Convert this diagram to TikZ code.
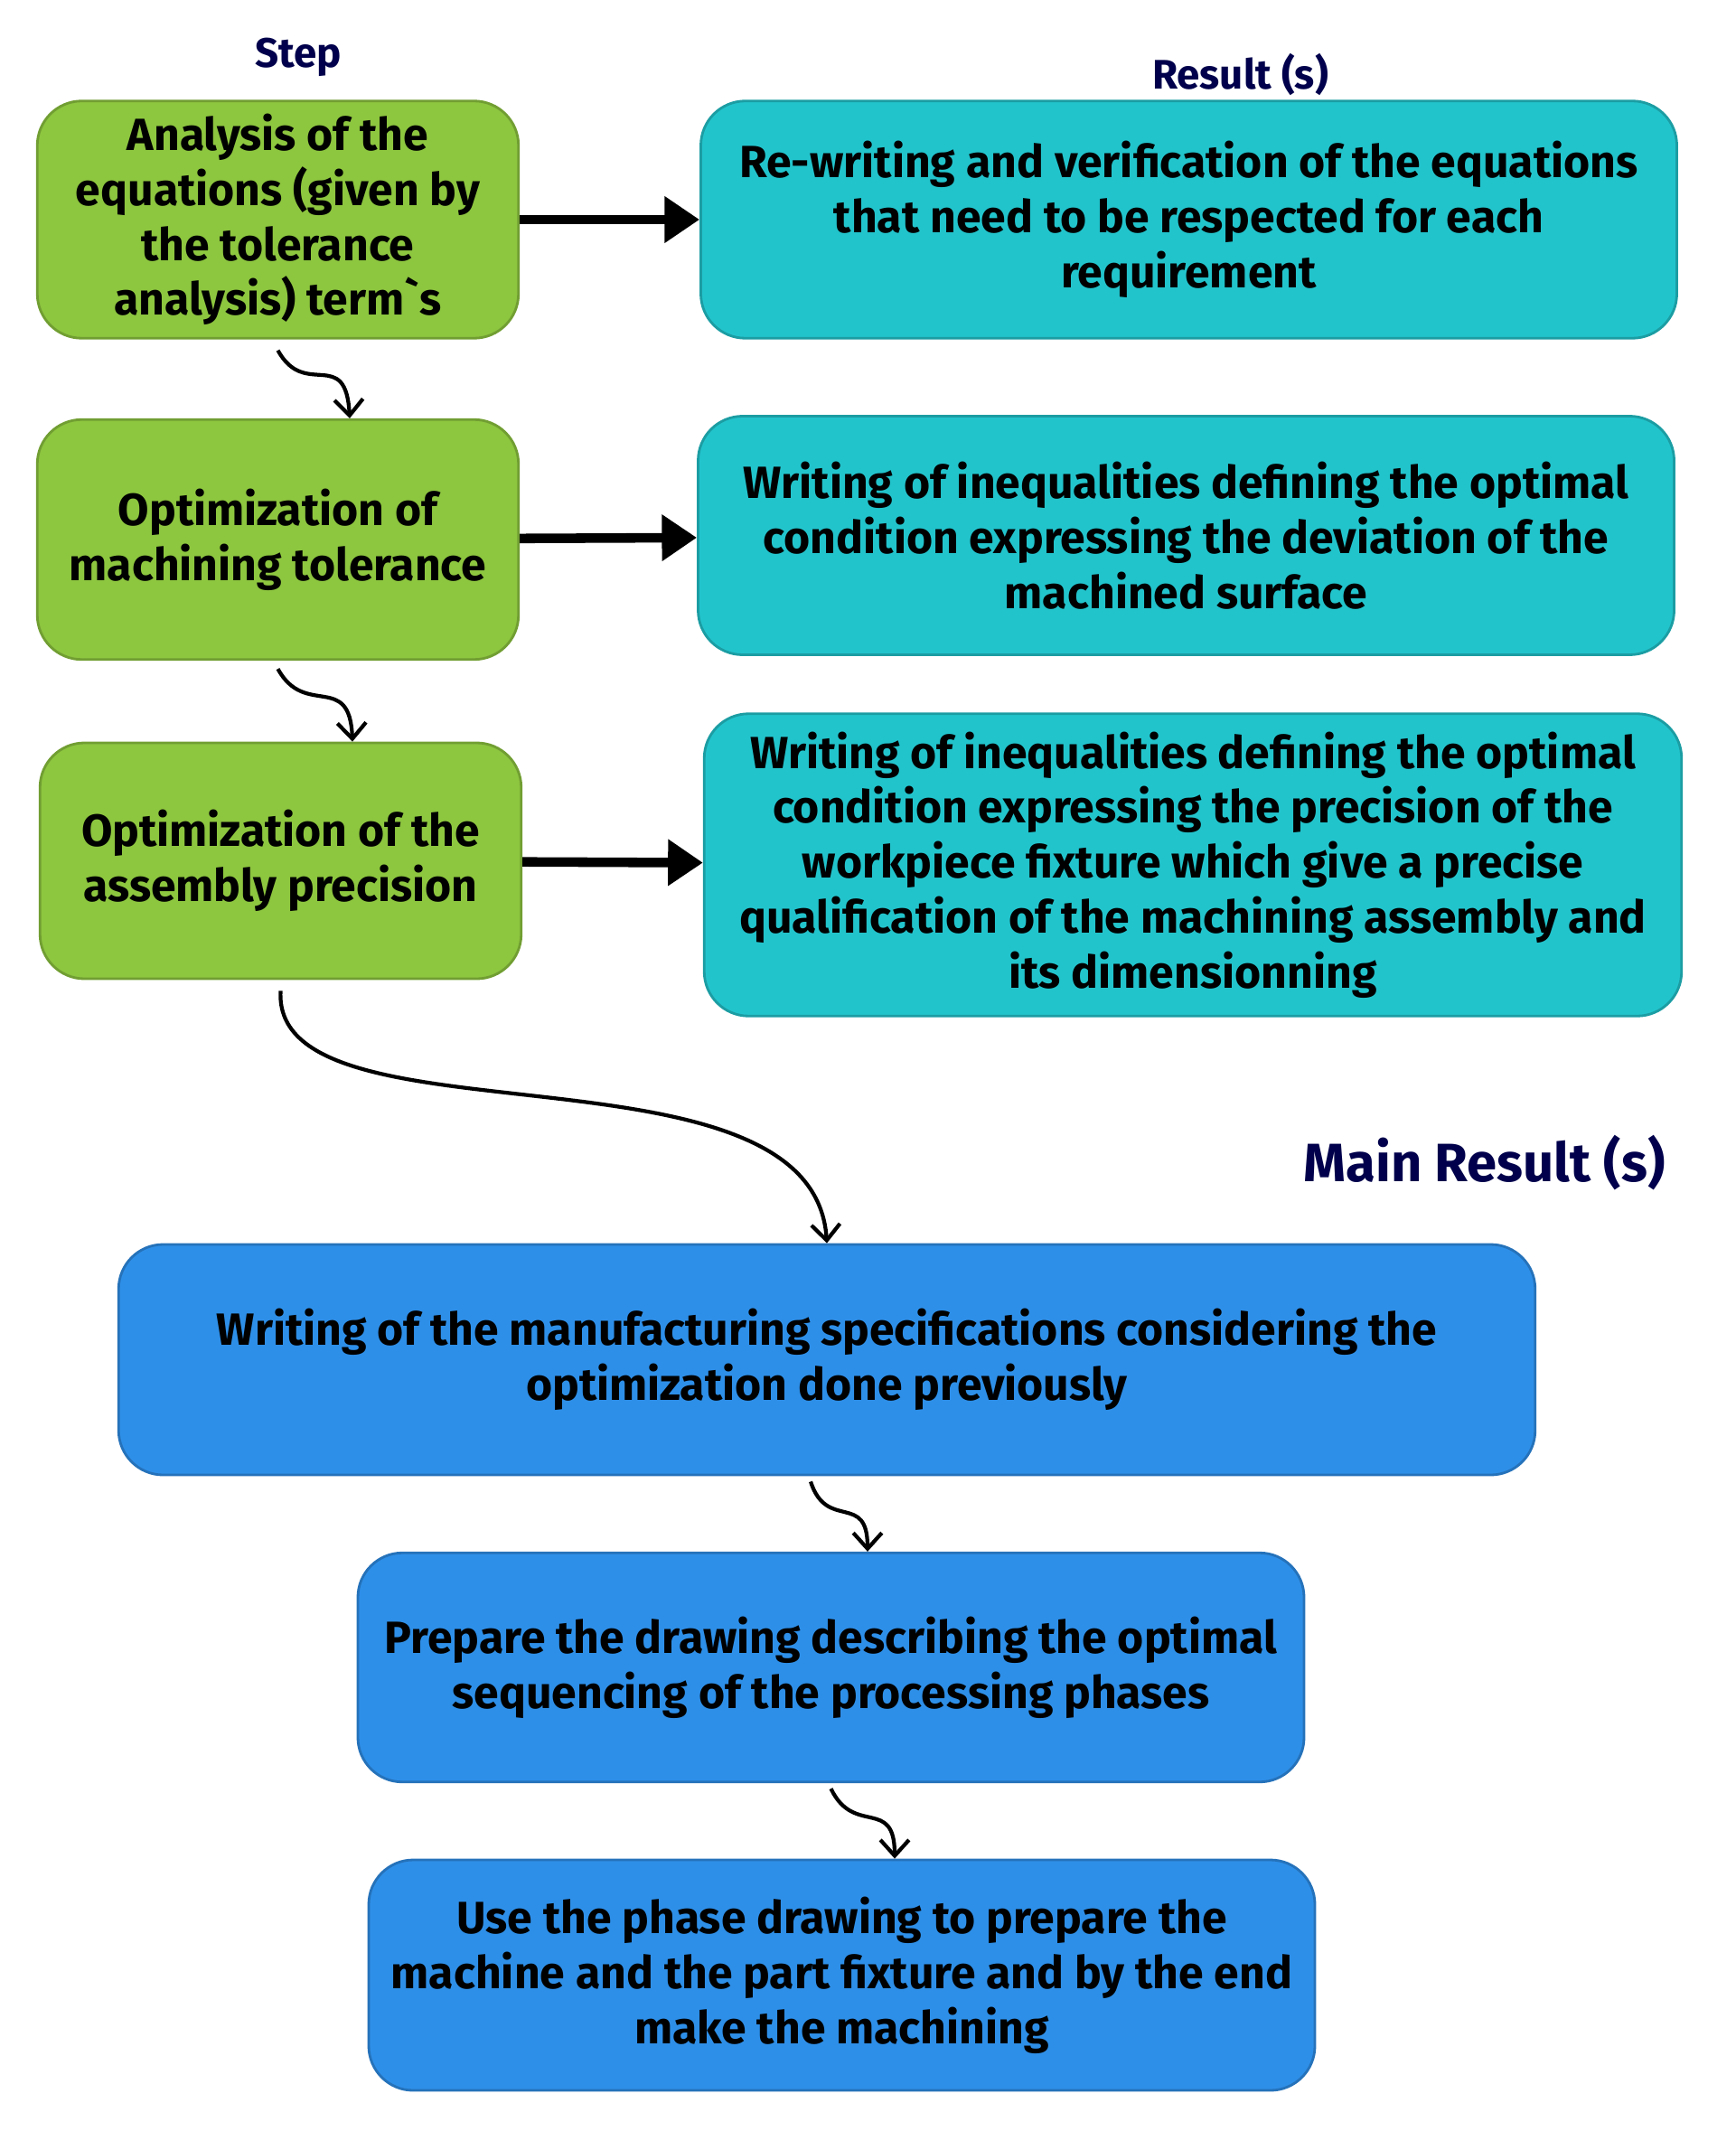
\documentclass[tikz,border=0pt]{standalone}
\usepackage{fontspec}
\setmainfont{Fira Sans}
\usetikzlibrary{arrows.meta}
\definecolor{stepgreen}{RGB}{141,198,63}
\definecolor{stepcyan}{RGB}{34,196,204}
\definecolor{stepblue}{RGB}{46,143,232}
\tikzset{
  box/.style={draw=#1!80!black, line width=0.8pt, fill=#1, rounded corners=14pt,
    align=center, font=\bfseries\fontsize{14.2}{17.3}\selectfont, inner sep=1pt},
  big/.style={line width=3pt, -{Triangle[length=11pt,width=14pt]}},
  wave/.style={line width=1.2pt, -{Straight Barb[length=5pt,width=9pt]}},
  title/.style={font=\bfseries\fontsize{13}{15}\selectfont, text=black!70!blue}
}
\begin{document}
\begin{tikzpicture}[x=0.015cm,y=-0.015cm]
\useasboundingbox (0,0) rectangle (1280,1586);
\node[title] (step) at (220,42) {Step};
\node[title] (res) at (915,55) {Result (s)};
\node[title,font=\bfseries\fontsize{17}{20}\selectfont] (main) at (1095,858) {Main Result (s)};
% steps
\node[box=stepgreen, minimum width=355*0.015cm, minimum height=175*0.015cm] (g1) at (205,162)
  {Analysis of the\\equations (given by\\the tolerance\\analysis) term\textasciigrave s};
\node[box=stepgreen, minimum width=355*0.015cm, minimum height=177*0.015cm] (g2) at (205,398)
  {Optimization of\\machining tolerance};
\node[box=stepgreen, minimum width=355*0.015cm, minimum height=174*0.015cm] (g3) at (207,635)
  {Optimization of the\\assembly precision};
% results
\node[box=stepcyan, minimum width=720*0.015cm, minimum height=175*0.015cm] (c1) at (877,162)
  {Re-writing and verification of the equations\\that need to be respected for each\\requirement};
\node[box=stepcyan, minimum width=720*0.015cm, minimum height=176*0.015cm] (c2) at (875,395)
  {Writing of inequalities defining the optimal\\condition expressing the deviation of the\\machined surface};
\node[box=stepcyan, minimum width=721*0.015cm, minimum height=223*0.015cm] (c3) at (880,638)
  {Writing of inequalities defining the optimal\\condition expressing the precision of the\\workpiece fixture which give a precise\\qualification of the machining assembly and\\its dimensionning};
% main results
\node[box=stepblue, minimum width=1045*0.015cm, minimum height=170*0.015cm] (b1) at (610,1003)
  {Writing of the manufacturing specifications considering the\\optimization done previously};
\node[box=stepblue, minimum width=698*0.015cm, minimum height=169*0.015cm] (b2) at (613,1230)
  {Prepare the drawing describing the optimal\\sequencing of the processing phases};
\node[box=stepblue, minimum width=698*0.015cm, minimum height=170*0.015cm] (b3) at (621,1457)
  {Use the phase drawing to prepare the\\machine and the part fixture and by the end\\make the machining};
% connectors
\draw[big] (g1) -- (c1);
\draw[big] (g2) -- (c2);
\draw[big] (g3) -- (c3);
\draw[wave] ([yshift=-8*0.015cm]g1.south) .. controls (225,295) and (255,255) .. ([xshift=53*0.015cm]g2.north);
\draw[wave] ([yshift=-6*0.015cm]g2.south) .. controls (225,530) and (258,495) .. ([xshift=53*0.015cm]g3.north);
\draw[wave] ([yshift=-8*0.015cm]g3.south) .. controls (200,850) and (600,760) .. (b1.north);
\draw[wave] ([xshift=-12*0.015cm,yshift=-4*0.015cm]b1.south) .. controls (610,1130) and (640,1100) .. ([xshift=27*0.015cm]b2.north);
\draw[wave] ([yshift=-4*0.015cm]b2.south) .. controls (630,1355) and (660,1325) .. ([xshift=39*0.015cm]b3.north);
\end{tikzpicture}
\end{document}
